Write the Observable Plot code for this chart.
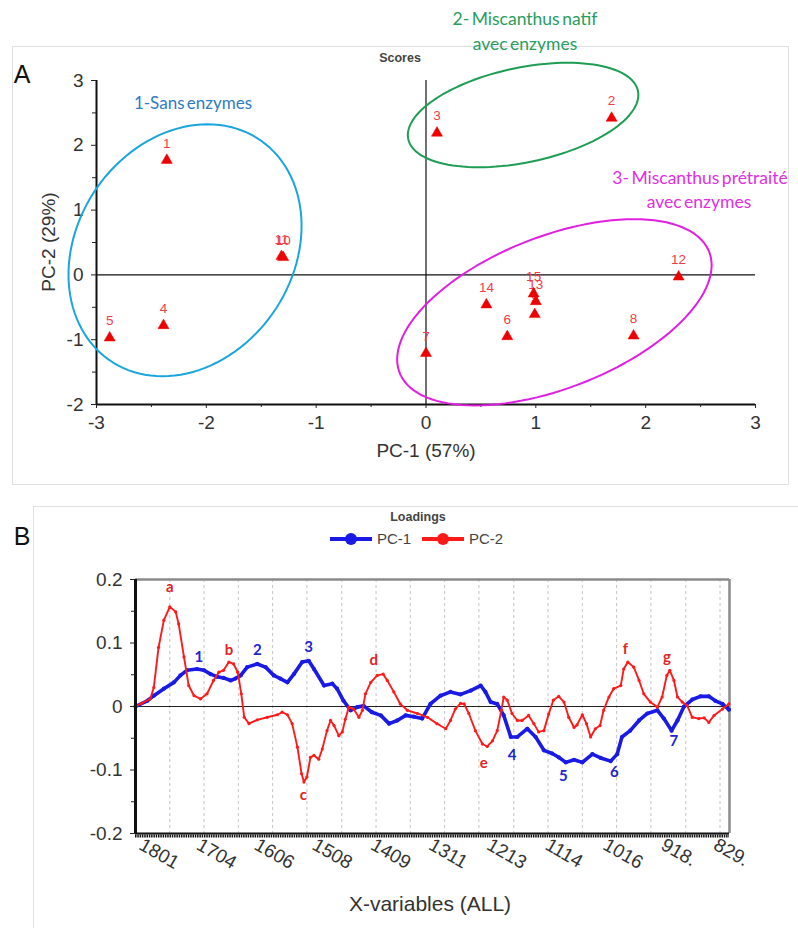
<!DOCTYPE html>
<html><head><meta charset="utf-8">
<script src="https://cdn.jsdelivr.net/npm/d3@7"></script>
<script src="https://cdn.jsdelivr.net/npm/@observablehq/plot@0.6"></script>
<style>
html,body{margin:0;padding:0;background:#fff;}
body{width:798px;height:928px;position:relative;overflow:hidden;font-family:"Liberation Sans",Arial,sans-serif;color:#333;}
.abs{position:absolute;white-space:nowrap;line-height:1;}
.frame{position:absolute;border:1px solid #e0e0e0;pointer-events:none;}
#plotA,#plotB{position:absolute;left:0;}
#plotA{top:0;} #plotB{top:490px;}
</style></head><body>
<div id="plotA"></div>
<div id="plotB"></div>
<div class="frame" style="left:12px;top:46px;width:775px;height:437px"></div>
<div class="frame" style="left:33px;top:506px;width:790px;height:440px"></div>
<script>
// ---------- Panel A : scores ----------
const sampleId = ["1","2","3","4","5","6","7","8","9","11","10","12","13","14","15"];
const scorePC1 = [-2.36, 1.69, 0.10, -2.39, -2.88, 0.74, 0.00, 1.89, 0.99, -1.316, -1.30, 2.30, 1.00, 0.55, 0.98];
const scorePC2 = [1.77, 2.42, 2.19, -0.78, -0.97, -0.95, -1.21, -0.94, -0.61, 0.285, 0.27, -0.03, -0.41, -0.46, -0.29];

const groupCx = [-2.194, 0.884, 1.169];
const groupCy = [0.38, 2.468, -0.577];
const groupUx = [0.205, 0.403, 0.724];
const groupUy = [1.944, 0.806, 1.437];
const groupVx = [1.041, 0.969, 1.235];
const groupColor = ["#1aa5df", "#1f9d55", "#e01fe0"];

const xTicksA = [-3, -2, -1, 0, 1, 2, 3];
const yTicksA = [-2, -1, 0, 1, 2, 3];

// ---------- Panel B : loadings ----------
const wnPC2 = [1805,1795,1780,1774,1766,1757,1747,1737,1732,1723,1715,1706,1695,1684,1673,1664,1656,1647,1639,1632,1626,1621,1613,1599,1582,1565,1557,1548,1540,1531,1524,1520,1515,1509,1503,1495,1489,1481,1475,1469,1461,1455,1450,1444,1436,1427,1421,1416,1407,1396,1386,1379,1368,1357,1345,1328,1311,1295,1280,1272,1264,1255,1249,1241,1230,1218,1210,1201,1193,1186,1182,1176,1168,1159,1151,1140,1131,1123,1114,1106,1098,1089,1080,1072,1063,1058,1049,1042,1035,1027,1019,1013,1004,996,984,979,972,962,953,945,934,922,914,906,901,894,888,880,872,863,852,843,835,826,812,801];
const loadPC2 = [0,0.005,0.012,0.03,0.093,0.136,0.157,0.149,0.13,0.078,0.033,0.017,0.012,0.02,0.041,0.054,0.057,0.07,0.067,0.054,0.02,-0.017,-0.027,-0.021,-0.017,-0.013,-0.009,-0.013,-0.027,-0.064,-0.106,-0.119,-0.111,-0.08,-0.077,-0.083,-0.067,-0.038,-0.022,-0.03,-0.046,-0.04,-0.02,-0.001,-0.004,-0.017,-0.006,0.02,0.038,0.049,0.051,0.041,0.023,0.004,-0.006,-0.011,-0.017,-0.027,-0.035,-0.022,-0.004,0.005,0.004,-0.011,-0.038,-0.059,-0.063,-0.054,-0.038,-0.006,0.015,0.01,-0.011,-0.022,-0.022,-0.014,-0.027,-0.04,-0.038,-0.012,0.01,0.016,0.007,-0.017,-0.033,-0.029,-0.013,-0.027,-0.048,-0.035,-0.03,-0.006,0.015,0.028,0.033,0.059,0.07,0.062,0.041,0.02,0.007,-0.001,0.015,0.049,0.057,0.041,0.015,0.007,0.002,-0.017,-0.019,-0.018,-0.025,-0.014,-0.004,0.004];

const wnPC1 = [1805,1785,1774,1757,1740,1729,1718,1701,1689,1678,1667,1656,1644,1636,1627,1616,1599,1585,1571,1560,1548,1537,1523,1512,1503,1486,1472,1464,1453,1441,1430,1419,1405,1390,1376,1362,1348,1334,1320,1306,1289,1272,1255,1238,1221,1213,1204,1193,1182,1170,1159,1142,1128,1114,1100,1089,1077,1063,1049,1032,1018,1001,990,982,968,953,939,922,911,898,888,877,863,849,835,824,812,801];
const loadPC1 = [0,0.009,0.017,0.028,0.038,0.049,0.057,0.059,0.057,0.051,0.047,0.045,0.041,0.044,0.049,0.062,0.067,0.062,0.049,0.044,0.038,0.051,0.07,0.072,0.059,0.033,0.036,0.028,0.009,-0.006,-0.001,0.001,-0.009,-0.014,-0.027,-0.022,-0.014,-0.016,-0.019,0.004,0.017,0.023,0.019,0.025,0.033,0.023,0.007,0.004,-0.014,-0.048,-0.048,-0.035,-0.048,-0.069,-0.074,-0.08,-0.088,-0.084,-0.088,-0.075,-0.081,-0.086,-0.075,-0.048,-0.038,-0.022,-0.011,-0.006,-0.019,-0.038,-0.022,0,0.011,0.016,0.016,0.009,0.004,-0.005];

const gridWn = [1747,1689,1631,1573,1515,1456,1398,1340,1282,1224,1165,1107,1049,991,933,874,816];
const xTickWn = [1801,1704,1606,1508,1409,1311,1213,1114,1016,918,829];
const xTickText = ["1801","1704","1606","1508","1409","1311","1213","1114","1016","918.","829."];
const yTicksB = [-0.2,-0.1,0,0.1,0.2];
const yMinorB = [-0.15,-0.05,0.05,0.15];

const peakLabel = ["a","1","b","2","3","c","d","e","4","5","6","f","g","7"];
const peakWn = [1747,1698,1647,1599,1512,1521,1402,1216,1168,1081,995,976,906,894];
const peakVal = [0.188,0.078,0.088,0.089,0.094,-0.140,0.073,-0.089,-0.077,-0.109,-0.104,0.091,0.078,-0.054];
const peakSeries = ["PC-2","PC-1","PC-2","PC-1","PC-1","PC-2","PC-2","PC-2","PC-1","PC-1","PC-1","PC-2","PC-2","PC-1"];

const RED = "#ff1a1a", BLUE = "#1a1ae6";

// ellipse outlines from centre + conjugate semi-axes
const ellipses = [];
groupCx.forEach((cx, g) => {
  for (let k = 0; k <= 120; k++) {
    const t = 2 * Math.PI * k / 120;
    ellipses.push({g, x: cx + groupUx[g] * Math.cos(t) + groupVx[g] * Math.sin(t),
                   y: groupCy[g] + groupUy[g] * Math.cos(t)});
  }
});
const idx = d3.range(sampleId.length);
const fmt = d => String(d);

const plotA = Plot.plot({
  width: 798, height: 490,
  marginLeft: 96, marginRight: 43, marginTop: 80, marginBottom: 86,
  style: {background: "transparent", fontFamily: "Liberation Sans, Arial, sans-serif", color: "#222", overflow: "visible"},
  x: {domain: [-3, 3], label: null},
  y: {domain: [-2, 3], label: null},
  marks: [
    Plot.ruleY([0], {x1: -3, x2: 3, stroke: "#111", strokeWidth: 1.2}),
    Plot.ruleX([0], {y1: -2, y2: 3, stroke: "#111", strokeWidth: 1.2}),
    Plot.ruleX([-3], {y1: -2, y2: 3, stroke: "#111", strokeWidth: 2}),
    Plot.ruleY([-2], {x1: -3, x2: 3, stroke: "#111", strokeWidth: 2}),
    Plot.axisX(xTicksA, {tickSize: 4, tickPadding: 7, fontSize: 19, tickFormat: fmt, fill: "#333", label: null}),
    Plot.axisX([-2.5,-1.5,-0.5,0.5,1.5,2.5], {tickSize: 3, tickFormat: () => "", label: null}),
    Plot.axisY(yTicksA, {tickSize: 5, tickPadding: 8, fontSize: 19, tickFormat: fmt, fill: "#333", label: null}),
    Plot.axisY([-1.5,-0.5,0.5,1.5,2.5], {tickSize: 4, tickFormat: () => "", label: null}),
    ...groupCx.map((_, g) => Plot.line(ellipses.filter(e => e.g === g), {x: "x", y: "y", stroke: groupColor[g], strokeWidth: 2, curve: "linear"})),
    Plot.text(idx, {x: i => scorePC1[i], y: i => scorePC2[i], text: i => sampleId[i], dy: -17, fill: "#ef3b47", fontSize: 13.5}),
    Plot.dot(idx, {x: i => scorePC1[i], y: i => scorePC2[i], symbol: "triangle", r: 4.1, fill: "#ee0000", stroke: "#ee0000", strokeWidth: 0.5})
  ]
});
document.getElementById("plotA").appendChild(plotA);

const pB = wnPC2.map((w, i) => ({w, v: loadPC2[i]}));
const pA = wnPC1.map((w, i) => ({w, v: loadPC1[i]}));
const pk = d3.range(peakLabel.length);

const plotB = Plot.plot({
  width: 798, height: 438,
  marginLeft: 135, marginRight: 69, marginTop: 89, marginBottom: 95,
  style: {background: "transparent", fontFamily: "Liberation Sans, Arial, sans-serif", color: "#222", overflow: "visible"},
  x: {domain: [1805, 800], axis: null, label: null},
  y: {domain: [-0.2, 0.2], label: null},
  marks: [
    Plot.ruleX(gridWn, {stroke: "#c4c4c4", strokeDasharray: "3,3", strokeWidth: 1}),
    Plot.ruleY([0.2], {stroke: "#8a8a8a", strokeWidth: 2.5}),
    Plot.ruleX([800], {stroke: "#8a8a8a", strokeWidth: 2.5}),
    Plot.ruleY([0], {stroke: "#222", strokeWidth: 1.2}),
    Plot.line(pA, {x: "w", y: "v", stroke: BLUE, strokeWidth: 3.6}),
    Plot.dot(pA, {x: "w", y: "v", r: 2.1, fill: BLUE}),
    Plot.line(pB, {x: "w", y: "v", stroke: RED, strokeWidth: 1.9}),
    Plot.dot(pB, {x: "w", y: "v", r: 1.6, fill: RED}),
    Plot.ruleX([1805], {stroke: "#111", strokeWidth: 3}),
    Plot.ruleY([-0.2], {stroke: "#111", strokeWidth: 2}),
    Plot.ruleY([-0.2], {stroke: "#111", strokeWidth: 3, dy: 2.5, strokeDasharray: "1.5,0.8"}),
    Plot.axisY(yTicksB, {tickSize: 5, tickPadding: 8, fontSize: 19, tickFormat: fmt, fill: "#333", label: null}),
    Plot.axisY(yMinorB, {tickSize: 4, tickFormat: () => "", label: null}),
    Plot.text(xTickWn, {x: d => d, frameAnchor: "bottom", dy: 15, rotate: 30, textAnchor: "start", text: (d, i) => xTickText[i], fontSize: 19, fill: "#333"}),
    Plot.text(pk, {x: i => peakWn[i], y: i => peakVal[i], text: i => peakLabel[i], fill: i => peakSeries[i] === "PC-1" ? "#2323d0" : "#e02424", fontWeight: "bold", fontSize: 15, fontFamily: "Lato, Open Sans, sans-serif"})
  ]
});
document.getElementById("plotB").appendChild(plotB);

// ---------- text overlays ----------
function lab(text, x, y, css) {
  const d = document.createElement("div");
  d.className = "abs";
  d.textContent = text;
  d.style.cssText = `left:${x}px;top:${y}px;transform:translate(-50%,-50%);` + (css || "");
  document.body.appendChild(d);
  return d;
}
const calibri = "font-family:Lato,sans-serif;word-spacing:-2px;";
lab("A", 22, 74, "font-size:25px;color:#111;");
lab("B", 22, 536, "font-size:25px;color:#111;");
lab("Scores", 400, 58, "font-size:12.5px;font-weight:bold;color:#444;");
lab("PC-1 (57%)", 426, 450, "font-size:19px;color:#333;");
lab("PC-2 (29%)", 48, 242, "font-size:19px;color:#333;transform:translate(-50%,-50%) rotate(-90deg);");
lab("X-variables (ALL)", 430, 903, "font-size:21px;color:#333;");
lab("1-Sans enzymes", 193, 102, "font-size:17px;color:#2f7bc4;" + calibri);
lab("2- Miscanthus natif", 525, 19, "font-size:17.5px;color:#2a9c5e;" + calibri);
lab("avec enzymes", 525, 44, "font-size:17.5px;color:#2a9c5e;" + calibri);
lab("3- Miscanthus prétraité", 700, 178, "font-size:17.5px;color:#e030e0;" + calibri);
lab("avec enzymes", 699, 202, "font-size:17.5px;color:#e030e0;" + calibri);

// legend B
lab("Loadings", 418, 517, "font-size:12.5px;font-weight:bold;color:#444;");
function legendItem(x0, color, name) {
  const line = document.createElement("div");
  line.className = "abs";
  line.style.cssText = `left:${x0}px;top:537px;width:42px;height:4px;background:${color};`;
  document.body.appendChild(line);
  const dot = document.createElement("div");
  dot.className = "abs";
  dot.style.cssText = `left:${x0 + 15}px;top:533px;width:12px;height:12px;border-radius:50%;background:${color};`;
  document.body.appendChild(dot);
  const t = document.createElement("div");
  t.className = "abs";
  t.textContent = name;
  t.style.cssText = `left:${x0 + 47}px;top:531px;font-size:15px;color:#444;`;
  document.body.appendChild(t);
}
legendItem(330, BLUE, "PC-1");
legendItem(422, RED, "PC-2");
</script>
</body></html>
